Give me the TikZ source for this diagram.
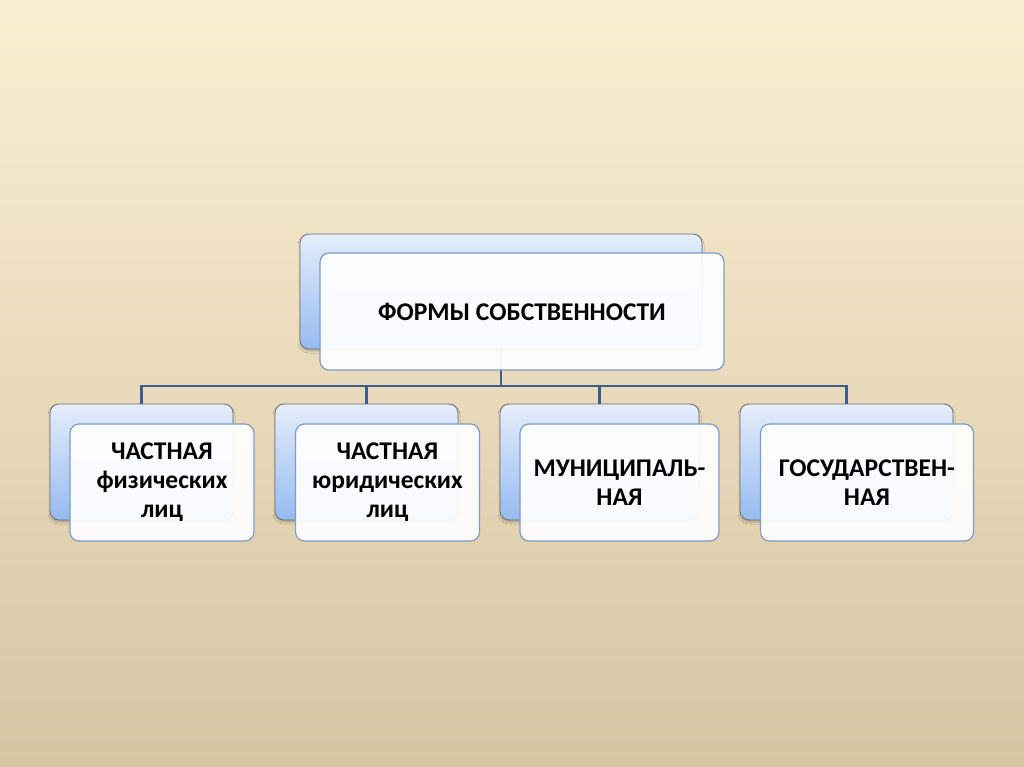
\documentclass[tikz,border=0pt]{standalone}
\usepackage{fontspec}
\setmainfont{Carlito}
\usetikzlibrary{positioning, shadows.blur, calc}
\definecolor{pagetop}{RGB}{252,238,210}
\definecolor{pagebot}{RGB}{212,198,163}
\definecolor{backtop}{RGB}{228,237,250}
\definecolor{backbot}{RGB}{150,186,240}
\definecolor{backline}{RGB}{110,110,110}
\definecolor{frontline}{RGB}{125,156,198}
\definecolor{linkcolor}{RGB}{58,95,140}

\begin{document}
\begin{tikzpicture}[
    x=1pt, y=-1pt,
    backbox/.style={rectangle, rounded corners=9pt, draw=backline, line width=0.8pt,
        top color=backtop, bottom color=backbot,
        blur shadow={shadow xshift=0pt, shadow yshift=-2pt, shadow blur radius=2pt, shadow opacity=25}},
    frontbox/.style={rectangle, rounded corners=9pt, draw=frontline, line width=1.2pt,
        fill=white, fill opacity=0.93, text opacity=1, align=center,
        font=\fontsize{25.5}{29}\selectfont\bfseries},
    link/.style={draw=linkcolor, line width=2.4pt}
]
    % page background
    \shade[top color=pagetop, bottom color=pagebot] (0,0) rectangle (1024,767);
    \useasboundingbox (0,0) rectangle (1024,767);

    % back boxes
    \node[backbox, minimum width=402pt, minimum height=115pt] (topback) at (501,291.5) {};
    \node[backbox, minimum width=183pt, minimum height=116pt] (aback) at (141.5,462) {};
    \node[backbox, minimum width=183pt, minimum height=116pt] (bback) at (366.5,462) {};
    \node[backbox, minimum width=199pt, minimum height=116pt] (cback) at (599.5,462) {};
    \node[backbox, minimum width=213pt, minimum height=116pt] (dback) at (846.5,462) {};

    % connectors
    \coordinate (bus) at (501,386);
    \draw[link] (topback.south) -- (bus);
    \draw[link] (aback.north) |- (bus);
    \draw[link] (bback.north) |- (bus);
    \draw[link] (cback.north) |- (bus);
    \draw[link] (dback.north) |- (bus);

    % front boxes
    \node[frontbox, minimum width=404pt, minimum height=117pt] (topfront) at (522,311.5) {ФОРМЫ СОБСТВЕННОСТИ};
    \node[frontbox, minimum width=184pt, minimum height=117pt] (afront) at (162,482.5) {ЧАСТНАЯ\\физических\\лиц};
    \node[frontbox, minimum width=184pt, minimum height=117pt] (bfront) at (387.5,482.5) {ЧАСТНАЯ\\юридических\\лиц};
    \node[frontbox, minimum width=199pt, minimum height=117pt] (cfront) at (619.5,482.5) {МУНИЦИПАЛЬ-\\НАЯ};
    \node[frontbox, minimum width=213pt, minimum height=117pt] (dfront) at (867,482.5) {ГОСУДАРСТВЕН-\\НАЯ};

\end{tikzpicture}
\end{document}
